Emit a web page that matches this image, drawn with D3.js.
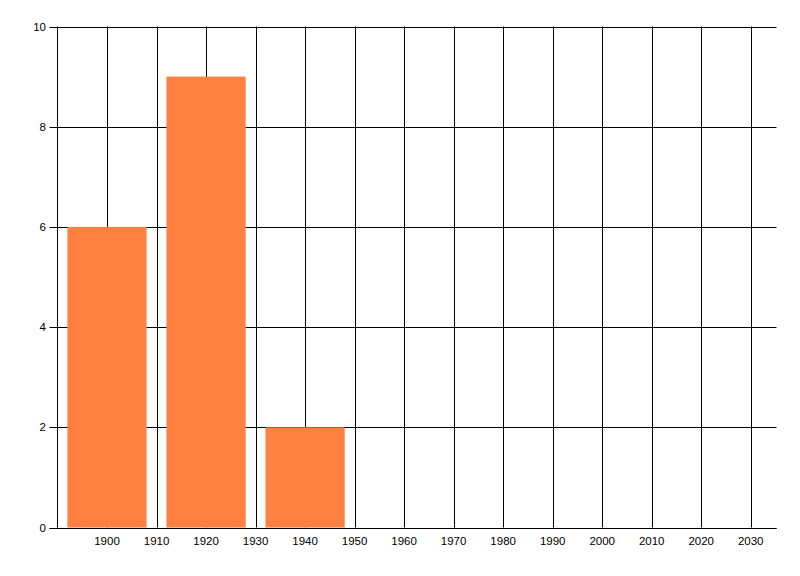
<!DOCTYPE html>
<html><head><meta charset="utf-8">
<script src="https://cdn.jsdelivr.net/npm/d3@7"></script>
<style>body{margin:0;background:#fff}svg{display:block}text{font-family:"Liberation Sans",Arial,sans-serif;font-size:11.5px;fill:#000}</style>
</head><body><svg id="c" width="800" height="576"></svg>
<script>
const years = [1900, 1920, 1940];
const values = [6, 9, 2];
const xTicks = [1900,1910,1920,1930,1940,1950,1960,1970,1980,1990,2000,2010,2020,2030];
const yTicks = [0,2,4,6,8,10];

const svg = d3.select("#c");
const L = 57.5, R = 775.5, T = 26.5, B = 527.5;
const x = d3.scaleLinear().domain([1890, 2035]).range([L, R]);
const y = d3.scaleLinear().domain([0, 10]).range([B, T]);

// horizontal gridlines
svg.append("g").selectAll("line").data(yTicks).join("line")
  .attr("x1", L - 8).attr("x2", R + 1)
  .attr("y1", d => Math.round(y(d)) + 0.5).attr("y2", d => Math.round(y(d)) + 0.5)
  .attr("stroke", "#000").attr("stroke-width", 1);
// vertical gridlines
svg.append("g").selectAll("line").data(xTicks).join("line")
  .attr("x1", d => Math.round(x(d)) + 0.5).attr("x2", d => Math.round(x(d)) + 0.5)
  .attr("y1", T).attr("y2", B)
  .attr("stroke", "#000").attr("stroke-width", 1);
// left axis line
svg.append("line").attr("x1", L).attr("x2", L).attr("y1", T).attr("y2", B)
  .attr("stroke", "#000");

// bars
svg.append("g").selectAll("rect").data(years).join("rect")
  .attr("x", d => x(d - 8)).attr("width", d => x(d + 8) - x(d - 8))
  .attr("y", (d, i) => y(values[i])).attr("height", (d, i) => y(0) - y(values[i]))
  .attr("fill", "#FF8040");

// bottom axis line on top
svg.append("line").attr("x1", L - 8).attr("x2", R + 1)
  .attr("y1", Math.round(y(0)) + 0.5).attr("y2", Math.round(y(0)) + 0.5)
  .attr("stroke", "#000");

// y labels
svg.append("g").selectAll("text").data(yTicks).join("text")
  .attr("x", 46).attr("y", d => y(d)).attr("dy", "0.35em")
  .attr("text-anchor", "end").text(d => d);
// x labels
svg.append("g").selectAll("text").data(xTicks).join("text")
  .attr("x", d => x(d)).attr("y", 541).attr("dy", "0.35em")
  .attr("text-anchor", "middle").text(d => d);
</script></body></html>
